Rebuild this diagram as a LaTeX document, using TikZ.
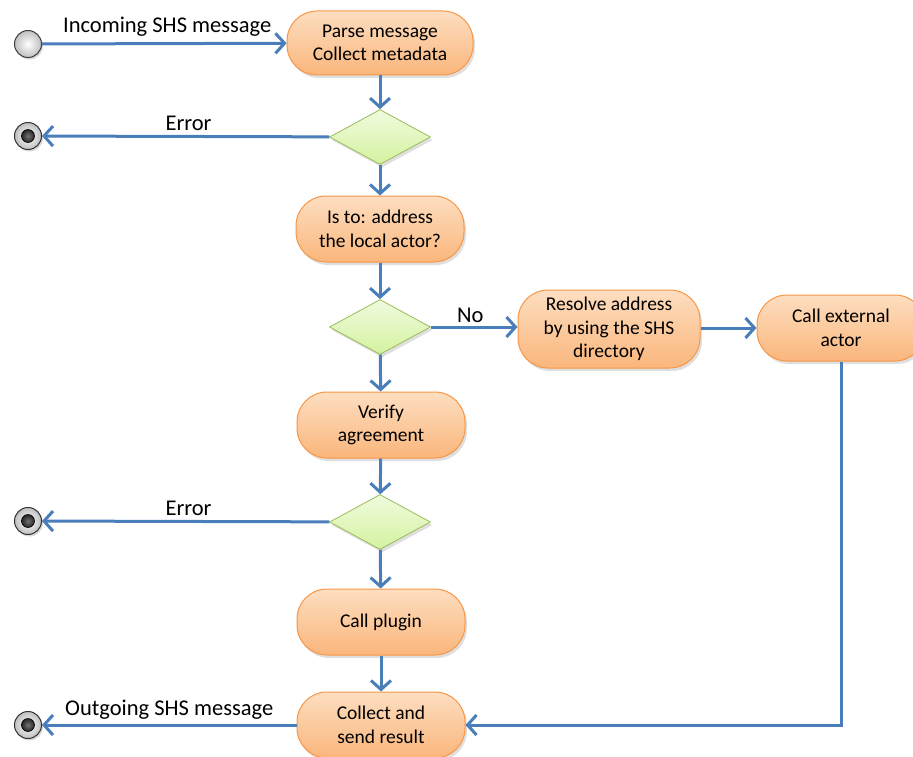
\documentclass[tikz,border=0pt]{standalone}
\usepackage{fontspec}
\setmainfont{Carlito}
\usetikzlibrary{arrows.meta,shapes.geometric,shadows}
\definecolor{acttop}{RGB}{253,222,192}
\definecolor{actbot}{RGB}{250,182,124}
\definecolor{actborder}{RGB}{247,150,70}
\definecolor{dectop}{RGB}{240,251,222}
\definecolor{decbot}{RGB}{212,242,160}
\definecolor{decborder}{RGB}{155,187,89}
\definecolor{flowblue}{RGB}{74,126,187}
\begin{document}
\begin{tikzpicture}[x=1pt,y=-1pt,
  act/.style={draw=actborder, line width=1pt, top color=acttop, bottom color=actbot,
    rounded corners=30pt, align=center, inner sep=0pt, minimum width=168pt, minimum height=66pt,
    font=\fontsize{19.5}{23.5}\selectfont,
    drop shadow={opacity=0.25, shadow xshift=2pt, shadow yshift=-3pt}},
  dec/.style={diamond, draw=decborder, line width=0.8pt, top color=dectop, bottom color=decbot,
    inner sep=0pt, minimum width=101pt, minimum height=55pt,
    drop shadow={opacity=0.25, shadow xshift=2pt, shadow yshift=-3pt}},
  startnode/.style={circle, draw=black!75, line width=1pt, inner color=white, outer color=black!25,
    minimum size=27pt, inner sep=0pt,
    drop shadow={opacity=0.3, shadow xshift=1.5pt, shadow yshift=-2pt}},
  endnode/.style={circle, draw=black!80, line width=1pt, inner color=white, outer color=black!25,
    minimum size=27pt, inner sep=0pt,
    drop shadow={opacity=0.3, shadow xshift=1.5pt, shadow yshift=-2pt}},
  endcore/.style={circle, draw=black, line width=0.6pt, inner color=black!55, outer color=black!85,
    minimum size=13pt, inner sep=0pt},
  flow/.style={draw=flowblue, line width=3pt, -{Straight Barb[length=9pt,width=20pt,line width=3pt]}},
  lbl/.style={font=\fontsize{22.5}{26}\selectfont, inner sep=0pt}
]
\useasboundingbox (0,0) rectangle (913,757);

% nodes
\node[startnode] (start) at (28,44) {};
\node[act, minimum width=186pt, minimum height=64pt] (parse) at (380,43) {Parse message\\Collect metadata};
\node[dec] (d1) at (380,137) {};
\node[endnode] (e1) at (28,136) {};
\node[endcore] at (e1) {};
\node[act] (local) at (380,229) {Is to: address\\the local actor?};
\node[dec] (d2) at (380,327) {};
\node[act, minimum width=182pt, minimum height=78pt] (resolve) at (609,329) {Resolve address\\by using the SHS\\directory};
\node[act] (ext) at (841,328) {Call external\\actor};
\node[act] (verify) at (381,425) {Verify\\agreement};
\node[dec] (d3) at (380,522) {};
\node[endnode] (e2) at (28,521) {};
\node[endcore] at (e2) {};
\node[act] (plugin) at (381,622) {Call plugin};
\node[act] (result) at (381,725) {Collect and\\send result};
\node[endnode] (e3) at (28,725) {};
\node[endcore] at (e3) {};

% connectors
\draw[flow] (start) -- (parse) node[lbl, midway, above=6pt, xshift=3pt] {Incoming SHS message};
\draw[flow] (parse) -- (d1);
\draw[flow] (d1) -- (e1) node[lbl, pos=0.49, above=4pt] {Error};
\draw[flow] (d1) -- (local);
\draw[flow] (local) -- (d2);
\draw[flow] (d2.east) -- (resolve.west |- d2.east) node[lbl, midway, above=3pt, xshift=-4pt] {No};
\draw[flow] (resolve.east |- ext.west) -- (ext.west);
\draw[flow] (d2) -- (verify);
\draw[flow] (verify) -- (d3);
\draw[flow] (d3) -- (e2) node[lbl, pos=0.49, above=4pt] {Error};
\draw[flow] (d3) -- (plugin);
\draw[flow] (plugin) -- (result);
\draw[flow] (ext.south) |- (result.east);
\draw[flow] (result) -- (e3) node[lbl, pos=0.5, above=4pt] {Outgoing SHS message};
\end{tikzpicture}
\end{document}
